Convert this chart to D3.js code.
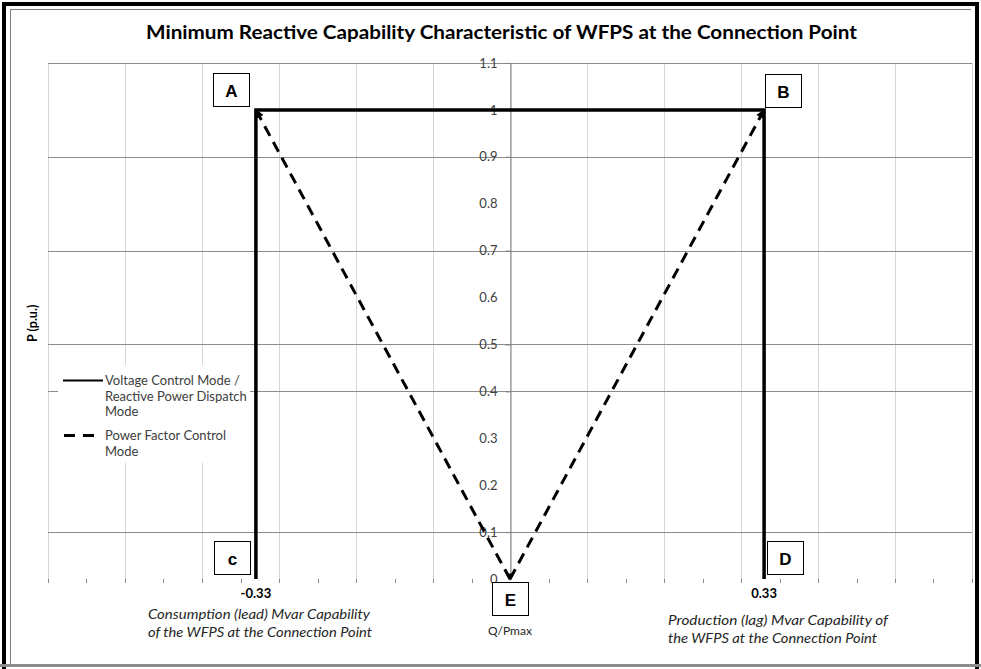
<!DOCTYPE html>
<html><head><meta charset="utf-8">
<script src="https://cdn.jsdelivr.net/npm/d3@7"></script>
<style>body{margin:0;background:#fff;overflow:hidden}</style>
</head><body><svg id="c" width="981" height="669"></svg>
<script>
// ---- data ----
const chartTitle = "Minimum Reactive Capability Characteristic of WFPS at the Connection Point";
const yAxisTitle = "P (p.u.)";
const xAxisTitle = "Q/Pmax";
const yTickValues = [0, 0.1, 0.2, 0.3, 0.4, 0.5, 0.6, 0.7, 0.8, 0.9, 1, 1.1];
const yGridValues = [1.1, 0.9, 0.7, 0.5, 0.4, 0.1];
const xGridValues = [-0.6, -0.5, -0.4, -0.3, -0.2, -0.1, 0, 0.1, 0.2, 0.3, 0.4, 0.5, 0.6];
const xTickValues = [-0.6, -0.55, -0.5, -0.45, -0.4, -0.35, -0.3, -0.25, -0.2, -0.15, -0.1, -0.05, 0.05, 0.1, 0.15, 0.2, 0.25, 0.3, 0.35, 0.4, 0.45, 0.5, 0.55, 0.6];
const capabilityQ = [-0.33, 0.33];
const capabilityLabels = ["-0.33", "0.33"];
const voltageModeQ = [-0.33, -0.33, 0.33, 0.33];
const voltageModeP = [0, 1, 1, 0];
const pfModeQ = [-0.33, 0, 0.33];
const pfModeP = [1, 0, 1];
const pointNames = ["A", "B", "c", "D", "E"];
const pointQ = [-0.33, 0.33, -0.33, 0.33, 0];
const pointP = [1, 1, 0, 0, 0];
const legendNames = [["Voltage Control Mode /", "Reactive Power Dispatch", "Mode"], ["Power Factor Control", "Mode"]];
const leftNote = ["Consumption (lead) Mvar Capability", "of the WFPS at the Connection Point"];
const rightNote = ["Production (lag) Mvar Capability of", "the WFPS at the Connection Point"];

// ---- layout ----
const svg = d3.select("#c");
const FONT = "Lato, 'Open Sans', sans-serif";
const x = d3.scaleLinear().domain([-0.6, 0.6]).range([48, 972]);
const y = d3.scaleLinear().domain([0, 1.1]).range([579, 63]);

svg.append("rect").attr("width", 981).attr("height", 669).attr("fill", "#fff");
// frame
svg.append("path").attr("d", "M4,669 V4 H977 V669").attr("fill", "none").attr("stroke", "#000").attr("stroke-width", 4);
svg.append("line").attr("x1", 10.5).attr("x2", 10.5).attr("y1", 9).attr("y2", 665).attr("stroke", "#7f7f7f").attr("stroke-width", 1);
svg.append("line").attr("x1", 10).attr("x2", 971).attr("y1", 9.5).attr("y2", 9.5).attr("stroke", "#7f7f7f").attr("stroke-width", 1);
svg.append("line").attr("x1", 0).attr("x2", 981).attr("y1", 665.5).attr("y2", 665.5).attr("stroke", "#8c8c8c").attr("stroke-width", 3);

// title
svg.append("text").attr("x", 501.5).attr("y", 39).attr("text-anchor", "middle")
  .attr("font-family", FONT).attr("font-weight", "bold").attr("font-size", 18.5)
  .attr("textLength", 711).attr("lengthAdjust", "spacingAndGlyphs")
  .attr("fill", "#000").text(chartTitle);

// vertical gridlines
svg.append("g").selectAll("line").data(xGridValues).join("line")
  .attr("x1", d => Math.round(x(d)) + 0.5).attr("x2", d => Math.round(x(d)) + 0.5)
  .attr("y1", y(1.1)).attr("y2", y(0))
  .attr("stroke", "#d4d4d4").attr("stroke-width", 1);
// horizontal gridlines
svg.append("g").selectAll("line").data(yGridValues).join("line")
  .attr("x1", x(-0.6)).attr("x2", x(0.6))
  .attr("y1", d => Math.round(y(d)) + 0.5).attr("y2", d => Math.round(y(d)) + 0.5)
  .attr("stroke", "#8c8c8c").attr("stroke-width", 1);

// x ticks (no axis line)
svg.append("g").selectAll("line").data(xTickValues).join("line")
  .attr("x1", d => Math.round(x(d)) + 0.5).attr("x2", d => Math.round(x(d)) + 0.5)
  .attr("y1", y(0)).attr("y2", y(0) + 4)
  .attr("stroke", "#8c8c8c").attr("stroke-width", 1);

// y axis at Q = 0
const yAxis = d3.axisLeft(y).tickValues(yTickValues).tickSize(0).tickPadding(13).tickFormat(d3.format("~g"));
const gy = svg.append("g").attr("transform", `translate(${Math.round(x(0)) + 0.5},0)`).call(yAxis);
gy.select(".domain").attr("stroke", "#7f7f7f");
gy.selectAll("text").attr("font-family", FONT).attr("font-size", 13).attr("fill", "#404040");
gy.selectAll(".tick").filter(d => yGridValues.includes(d)).append("line")
  .attr("x1", -5).attr("x2", 0).attr("stroke", "#7f7f7f");

// y axis title
svg.append("text").attr("transform", `translate(37,${y(0.545)}) rotate(-90)`).attr("text-anchor", "middle")
  .attr("font-family", FONT).attr("font-weight", "bold").attr("font-size", 12.5).attr("fill", "#000").text(yAxisTitle);

// capability tick labels
svg.append("g").selectAll("text").data(capabilityQ).join("text")
  .attr("x", d => x(d)).attr("y", y(0) + 19).attr("text-anchor", "middle")
  .attr("font-family", FONT).attr("font-weight", "bold").attr("font-size", 13).attr("fill", "#000")
  .text((d, i) => capabilityLabels[i]);

// legend background
const legend = svg.append("g").attr("transform", "translate(58,365)");
legend.append("rect").attr("width", 192).attr("height", 98).attr("fill", "#fff");

// arrow markers
const defs = svg.append("defs");
defs.append("marker").attr("id", "arr").attr("viewBox", "0 0 10 10").attr("refX", 9).attr("refY", 5)
  .attr("markerWidth", 3).attr("markerHeight", 3).attr("markerUnits", "strokeWidth").attr("orient", "auto")
  .append("path").attr("d", "M0,0 L10,5 L0,10 z").attr("fill", "#000");

// power factor mode (dashed), as two arrows from E
const line = d3.line().x(d => x(d[0])).y(d => y(d[1]));
const pfPts = pfModeQ.map((q, i) => [q, pfModeP[i]]);
[[pfPts[1], pfPts[0]], [pfPts[1], pfPts[2]]].forEach(seg => {
  svg.append("path").attr("d", line(seg)).attr("fill", "none").attr("stroke", "#000")
    .attr("stroke-width", 3).attr("stroke-dasharray", "11,7").attr("marker-end", "url(#arr)");
});
// arrow tip at E
svg.append("path").attr("d", d3.symbol(d3.symbolTriangle, 30)())
  .attr("transform", `translate(${x(0)},${y(0) - 3}) rotate(180)`).attr("fill", "#000");

// voltage control mode (solid)
svg.append("path").attr("d", line(voltageModeQ.map((q, i) => [q, voltageModeP[i]])))
  .attr("fill", "none").attr("stroke", "#000").attr("stroke-width", 3.5).attr("stroke-linejoin", "miter");

// point label boxes
const boxOffsets = [[-43, -37], [1, -36], [-42, -38], [3, -38], [-18, 3]];
const boxes = svg.append("g").selectAll("g").data(pointNames).join("g")
  .attr("transform", (d, i) => `translate(${Math.round(x(pointQ[i])) + boxOffsets[i][0]},${Math.round(y(pointP[i])) + boxOffsets[i][1]})`);
boxes.append("rect").attr("x", 0.5).attr("y", 0.5).attr("width", 36).attr("height", 33)
  .attr("fill", "#fff").attr("stroke", "#000").attr("stroke-width", 1);
boxes.append("text").attr("x", 18.5).attr("y", 23.5).attr("text-anchor", "middle")
  .attr("font-family", "'Liberation Sans', Arial, sans-serif").attr("font-weight", "bold").attr("font-size", 17)
  .attr("fill", "#000").text(d => d);

// x axis title
svg.append("text").attr("x", x(0)).attr("y", 635).attr("text-anchor", "middle")
  .attr("font-family", FONT).attr("font-size", 12).attr("fill", "#262626").text(xAxisTitle);

// notes
const leftW = [222, 224], rightW = [220, 209];
svg.append("g").selectAll("text").data(leftNote).join("text")
  .attr("x", 148).attr("y", (d, i) => 619 + i * 18)
  .attr("textLength", (d, i) => leftW[i]).attr("lengthAdjust", "spacingAndGlyphs")
  .attr("font-family", FONT).attr("font-style", "italic").attr("font-size", 14).attr("fill", "#262626").text(d => d);
svg.append("g").selectAll("text").data(rightNote).join("text")
  .attr("x", 668).attr("y", (d, i) => 625 + i * 18)
  .attr("textLength", (d, i) => rightW[i]).attr("lengthAdjust", "spacingAndGlyphs")
  .attr("font-family", FONT).attr("font-style", "italic").attr("font-size", 14).attr("fill", "#262626").text(d => d);

// legend
legend.append("line").attr("x1", 5).attr("x2", 45).attr("y1", 15.5).attr("y2", 15.5).attr("stroke", "#000").attr("stroke-width", 2);
legend.append("line").attr("x1", 6).attr("x2", 36).attr("y1", 70.5).attr("y2", 70.5).attr("stroke", "#000").attr("stroke-width", 3).attr("stroke-dasharray", "11,8");
const lgText = [[legendNames[0], 20], [legendNames[1], 75]];
lgText.forEach(([lines, y0]) => {
  legend.append("g").selectAll("text").data(lines).join("text")
    .attr("x", 47).attr("y", (d, i) => y0 + i * 15.5)
    .attr("font-family", FONT).attr("font-size", 13).attr("fill", "#404040").text(d => d);
});
</script></body></html>
